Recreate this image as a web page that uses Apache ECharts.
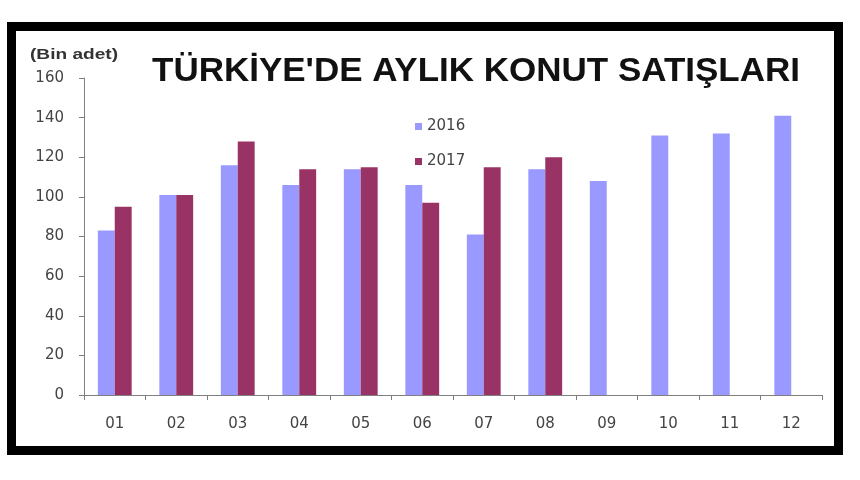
<!DOCTYPE html>
<html><head><meta charset="utf-8">
<script src="https://cdn.jsdelivr.net/npm/echarts@6/dist/echarts.min.js"></script>
<style>html,body{margin:0;padding:0;background:#fff}#c{width:860px;height:480px}</style>
</head><body><div id="c"></div>
<script>
const months = ['01','02','03','04','05','06','07','08','09','10','11','12'];
const sales2016 = [83, 101, 116, 106, 114, 106, 81, 114, 108, 131, 132, 141];
const sales2017 = [95, 101, 128, 114, 115, 97, 115, 120, null, null, null, null];
const yTicks = [0, 20, 40, 60, 80, 100, 120, 140, 160];
const titleText = "TÜRKİYE'DE AYLIK KONUT SATIŞLARI";
const unitText = '(Bin adet)';

function textScale(text, font, target) {
  const ctx = document.createElement('canvas').getContext('2d');
  ctx.font = font;
  const w = ctx.measureText(text).width;
  return w > 0 ? target / w : 1;
}
const titleFont = 'bold 33px "Liberation Sans"';
const unitFont = 'bold 15px "Liberation Sans"';

const chart = echarts.init(document.getElementById('c'));
chart.setOption({
  animation: false,
  backgroundColor: '#fff',
  graphic: [{
    type: 'rect', left: 7, top: 22,
    shape: { width: 827, height: 424 },
    style: { fill: 'none', stroke: '#000', lineWidth: 9 }
  }, {
    type: 'text', x: 152, y: 72, scaleX: textScale(titleText, titleFont, 648),
    style: { text: titleText, font: titleFont, fill: '#111', verticalAlign: 'middle', align: 'left' }
  }, {
    type: 'text', x: 30, y: 55, scaleX: textScale(unitText, unitFont, 88),
    style: { text: unitText, font: unitFont, fill: '#333', verticalAlign: 'middle', align: 'left' }
  }],
  legend: {
    orient: 'vertical', left: 410, top: 114, itemGap: 20,
    icon: 'rect', itemWidth: 7, itemHeight: 7,
    textStyle: { fontFamily: 'DejaVu Sans', fontSize: 15, color: '#444' },
    data: ['2016', '2017']
  },
  grid: { left: 84, top: 78, right: 38, bottom: 85 },
  xAxis: {
    type: 'category', data: months,
    axisLine: { lineStyle: { color: '#808080' } },
    axisTick: { show: true, length: 5, lineStyle: { color: '#808080' } },
    axisLabel: { margin: 22, fontFamily: 'DejaVu Sans', fontSize: 15, color: '#444' }
  },
  yAxis: {
    type: 'value', min: yTicks[0], max: yTicks[yTicks.length - 1], interval: 20,
    axisLine: { show: true, lineStyle: { color: '#808080' } },
    axisTick: { show: true, length: 5, lineStyle: { color: '#808080' } },
    splitLine: { show: false },
    axisLabel: { margin: 20, fontFamily: 'DejaVu Sans', fontSize: 15, color: '#444' }
  },
  series: [{
    name: '2016', type: 'bar', data: sales2016,
    itemStyle: { color: '#9999FF' },
    barGap: '0%', barCategoryGap: '45%'
  }, {
    name: '2017', type: 'bar', data: sales2017,
    itemStyle: { color: '#993366' },
    barGap: '0%', barCategoryGap: '45%'
  }]
});
</script></body></html>
